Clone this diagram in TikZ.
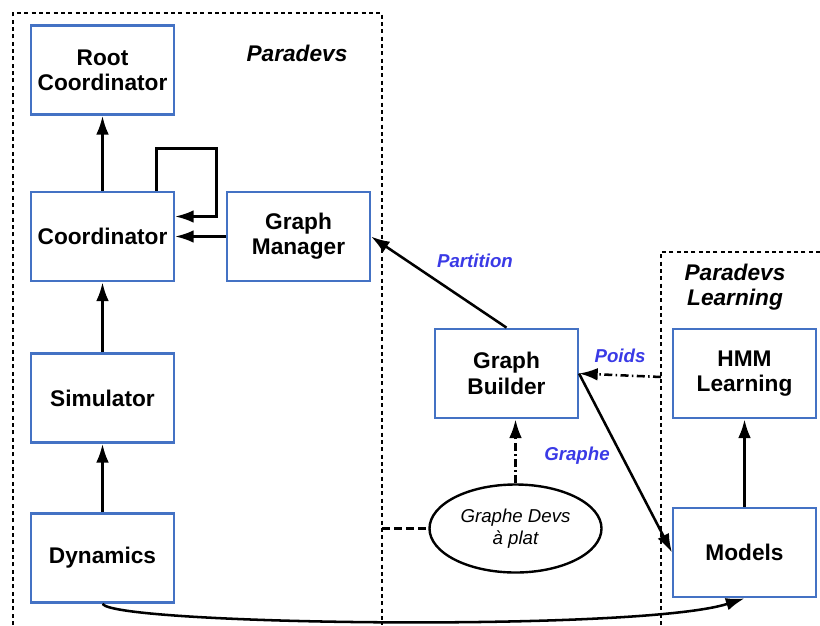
\documentclass[tikz,border=0pt]{standalone}
\usepackage{fontspec}
\setmainfont{Liberation Sans}
\usetikzlibrary{arrows.meta,shapes.geometric}
\definecolor{boxblue}{HTML}{4472C4}
\definecolor{lblblue}{HTML}{3A3AE6}

\begin{document}
\begin{tikzpicture}[x=0.75pt, y=-0.75pt,
    blk/.style={draw=boxblue, line width=1.8pt, minimum width=107pt, minimum height=67pt,
      align=center, font=\fontsize{17}{19}\selectfont\bfseries},
    lbl/.style={text=lblblue, font=\fontsize{14}{16}\selectfont\bfseries\itshape},
    arr/.style={-{Latex[length=14pt,width=9.5pt]}, line width=1.9pt},
    frame/.style={line width=1.8pt, dash pattern=on 3pt off 2.5pt},
    dashdot/.style={line width=1.9pt, dash pattern=on 6pt off 2.5pt on 1.2pt off 2.5pt}]
  \useasboundingbox (0,0) rectangle (820,625);
  \draw[frame] (13,625) -- (13,13) -- (382,13) -- (382,625);
  \draw[frame] (820,252) -- (661,252) -- (661,625);
  \node[font=\fontsize{17}{19}\selectfont\bfseries\itshape] (pd) at (297,53) {Paradevs};
  \node[font=\fontsize{17}{19}\selectfont\bfseries\itshape, align=center] (pdl) at (735,287) {Paradevs\\Learning};
  \node[blk] (root) at (102.5,70) {Root\\Coordinator};
  \node[blk] (coord) at (102.5,236.5) {Coordinator};
  \node[blk] (gm) at (298.5,236.5) {Graph\\Manager};
  \node[blk] (sim) at (102.5,398) {Simulator};
  \node[blk] (dyn) at (102.5,558) {Dynamics};
  \node[blk] (gb) at (506.5,373.5) {Graph\\Builder};
  \node[blk] (hmm) at (744.5,373.5) {HMM\\Learning};
  \node[blk] (models) at (744.5,552.5) {Models};
  \node[draw, ellipse, line width=1.8pt, minimum width=129pt, minimum height=66pt, inner sep=0pt,
    align=center, font=\fontsize{14}{16.5}\selectfont\itshape] (flat) at (515.5,528.5) {Graphe Devs\\à plat};
  \coordinate (pl) at (661,377);
  \coordinate (fl) at (382,528.5);
  \node[lbl] (lpart) at (475,261) {Partition};
  \node[lbl] (lpoids) at (620,356) {Poids};
  \node[lbl] (lgraphe) at (577,456) {Graphe};
  \draw[arr] (coord) -- (root);
  \draw[arr] ([xshift=-14pt]coord.north east) -- ++(0,-42) -- ++(60,0) |- ([yshift=15pt]coord.east);
  \draw[arr] (gm) -- (coord);
  \draw[arr] (sim) -- (coord);
  \draw[arr] (dyn) -- (sim);
  \draw[arr] (gb.north) -- (gm.east);
  \draw[arr, dashdot] (pl) -- (gb.east);
  \draw[arr] (gb.east) -- (models.west);
  \draw[arr] (models) -- (hmm);
  \draw[arr, dashdot] (flat.north) -- (flat.north |- gb.south);
  \draw[line width=1.9pt, dash pattern=on 6pt off 3pt] (fl) -- (flat.west);
  \draw[arr] (dyn.south) .. controls (115,625) and (640,632) .. (models.south);
\end{tikzpicture}
\end{document}
